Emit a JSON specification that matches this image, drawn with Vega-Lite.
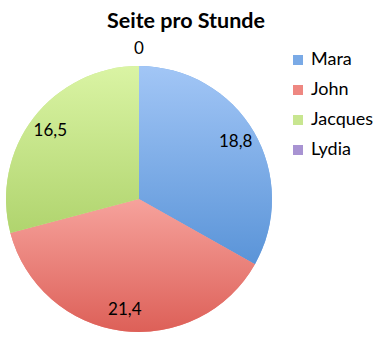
{
  "$schema": "https://vega.github.io/schema/vega-lite/v6.json",
  "width": 266,
  "height": 266,
  "autosize": {"type": "none"},
  "padding": {"left": 6, "top": 66, "right": 117, "bottom": 15},
  "background": "white",
  "title": {"text": "Seite pro Stunde", "font": "Lato", "fontSize": 21.5, "fontWeight": "bold", "color": "black", "anchor": "middle", "dx": 47, "offset": 8},
  "data": {"values": [
    {"name": "Mara", "value": 18.8, "order": 1},
    {"name": "John", "value": 21.4, "order": 2},
    {"name": "Jacques", "value": 16.5, "order": 3},
    {"name": "Lydia", "value": 0, "order": 4}
  ]},
  "encoding": {
    "theta": {"field": "value", "type": "quantitative", "stack": true},
    "order": {"field": "order", "type": "quantitative"}
  },
  "layer": [
    {
      "mark": {"type": "arc", "outerRadius": 133},
      "encoding": {
        "color": {
          "field": "name",
          "type": "nominal",
          "scale": {"domain": ["Mara", "John", "Jacques", "Lydia"], "range": ["#7aaae6", "#ee8781", "#c8e690", "#a893d2"]},
          "legend": {
            "title": null,
            "orient": "none",
            "legendX": 283,
            "legendY": -15,
            "symbolType": "square",
            "symbolSize": 100,
            "symbolStrokeWidth": 0,
            "labelFont": "Lato",
            "labelFontSize": 18,
            "labelColor": "black",
            "labelOffset": 4,
            "rowPadding": 12
          }
        }
      }
    },
    {
      "mark": {"type": "arc", "outerRadius": 133},
      "encoding": {
        "fill": {
          "condition": [
            {"test": "datum.name === 'Mara'", "value": {"gradient": "linear", "x1": 0, "y1": 0, "x2": 0, "y2": 1, "stops": [{"offset": 0, "color": "#a2c6f6"}, {"offset": 1, "color": "#5a94d8"}]}},
            {"test": "datum.name === 'John'", "value": {"gradient": "linear", "x1": 0, "y1": 0, "x2": 0, "y2": 1, "stops": [{"offset": 0, "color": "#f6a29c"}, {"offset": 1, "color": "#dd6058"}]}},
            {"test": "datum.name === 'Jacques'", "value": {"gradient": "linear", "x1": 0, "y1": 0, "x2": 0, "y2": 1, "stops": [{"offset": 0, "color": "#daf4a4"}, {"offset": 1, "color": "#b0d46e"}]}}
          ],
          "value": "#a893d2"
        }
      }
    },
    {
      "mark": {"type": "text", "radius": {"expr": "datum.value == 0 ? 150 : 112"}, "font": "Lato", "fontSize": 17, "color": "black"},
      "encoding": {
        "text": {"field": "value", "type": "quantitative", "format": "~g"}
      }
    }
  ],
  "config": {
    "view": {"stroke": null},
    "locale": {"number": {"decimal": ",", "thousands": ".", "grouping": [3], "currency": ["", " €"]}}
  }
}
